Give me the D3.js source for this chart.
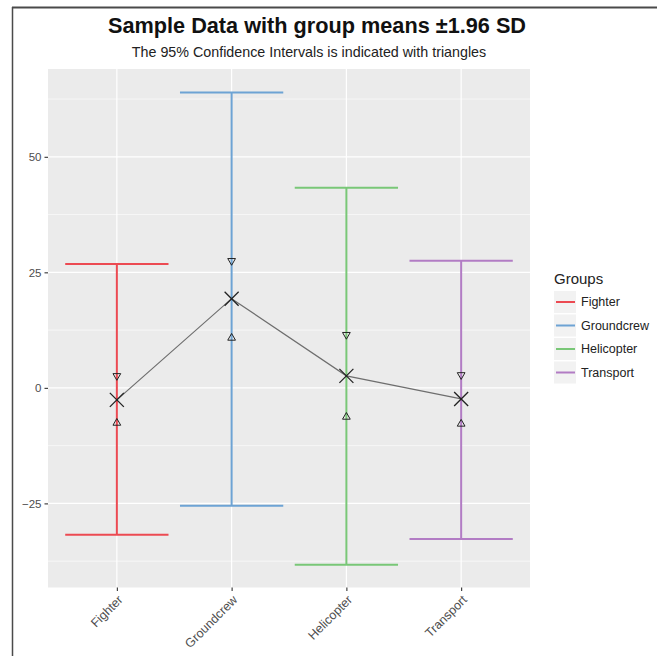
<!DOCTYPE html>
<html>
<head>
<meta charset="utf-8">
<script src="https://cdn.jsdelivr.net/npm/d3@7"></script>
<style>
  html, body { margin: 0; padding: 0; background: #fff; overflow: hidden; }
  svg { display: block; }
  text { font-family: "Liberation Sans", Arial, sans-serif; }
</style>
</head>
<body>
<svg id="chart" width="657" height="656"></svg>
<script>
// values
var groups = ["Fighter", "Groundcrew", "Helicopter", "Transport"];
var colors = ["#ec4a52", "#6da3d4", "#79c777", "#b27cc4"];
var means = [-2.6, 19.3, 2.6, -2.4];
var sdLow = [-31.8, -25.5, -38.3, -32.7];
var sdHigh = [26.8, 63.9, 43.3, 27.5];
var ciLow = [-7.6, 10.8, -6.3, -7.8];
var ciHigh = [2.6, 27.5, 11.5, 2.8];
var yTicks = [-25, 0, 25, 50];
var yMinor = [-37.5, -12.5, 12.5, 37.5, 62.5];

var rows = groups.map(function(g, i) {
  return {group: g, color: colors[i], mean: means[i], lo: sdLow[i], hi: sdHigh[i], cilo: ciLow[i], cihi: ciHigh[i]};
});

var svg = d3.select("#chart");
var panel = {left: 48, right: 530, top: 69, bottom: 587.5};

var x = d3.scalePoint().domain(groups).range([panel.left, panel.right]).padding(0.6);
var y = d3.scaleLinear().domain([-43.2, 69]).range([panel.bottom, panel.top]);
var capW = x.step() * 0.9;

// frame lines of the screenshot
svg.append("line").attr("x1", 12).attr("x2", 657).attr("y1", 7.5).attr("y2", 7.5)
  .attr("stroke", "#4a4a4a").attr("stroke-width", 2);
svg.append("line").attr("x1", 12.5).attr("x2", 12.5).attr("y1", 7).attr("y2", 656)
  .attr("stroke", "#4a4a4a").attr("stroke-width", 1.5);

// titles
svg.append("text").attr("x", 317).attr("y", 33).attr("text-anchor", "middle")
  .attr("font-size", 21.7).attr("font-weight", "bold").attr("fill", "#111")
  .text("Sample Data with group means \u00b11.96 SD");
svg.append("text").attr("x", 309).attr("y", 57).attr("text-anchor", "middle")
  .attr("font-size", 14.3).attr("fill", "#222")
  .text("The 95% Confidence Intervals is indicated with triangles");

// panel + grid
svg.append("rect").attr("x", panel.left).attr("y", panel.top)
  .attr("width", panel.right - panel.left).attr("height", panel.bottom - panel.top)
  .attr("fill", "#ebebeb");

var grid = svg.append("g");
grid.selectAll(".minor").data(yMinor).enter().append("line")
  .attr("x1", panel.left).attr("x2", panel.right)
  .attr("y1", function(d) { return y(d); }).attr("y2", function(d) { return y(d); })
  .attr("stroke", "#fff").attr("stroke-width", 0.6);
grid.selectAll(".major").data(yTicks).enter().append("line")
  .attr("x1", panel.left).attr("x2", panel.right)
  .attr("y1", function(d) { return y(d); }).attr("y2", function(d) { return y(d); })
  .attr("stroke", "#fff").attr("stroke-width", 1.2);
grid.selectAll(".vmajor").data(groups).enter().append("line")
  .attr("x1", function(d) { return x(d); }).attr("x2", function(d) { return x(d); })
  .attr("y1", panel.top).attr("y2", panel.bottom)
  .attr("stroke", "#fff").attr("stroke-width", 1.2);

// axes
var yAxis = svg.append("g").attr("transform", "translate(" + panel.left + ",0)")
  .call(d3.axisLeft(y).tickValues(yTicks).tickSize(3.5).tickPadding(3));
var xAxis = svg.append("g").attr("transform", "translate(0," + panel.bottom + ")")
  .call(d3.axisBottom(x).tickSize(3.5));
[yAxis, xAxis].forEach(function(a) {
  a.select(".domain").remove();
  a.selectAll(".tick line").attr("stroke", "#333").attr("stroke-width", 1.1);
  a.selectAll(".tick text").attr("fill", "#4d4d4d").attr("font-size", 11.5)
    .attr("font-family", "'Liberation Sans', Arial, sans-serif");
});
xAxis.selectAll(".tick text")
  .attr("font-size", 12.5)
  .attr("text-anchor", "end").attr("dy", "0.35em").attr("y", 0)
  .attr("transform", "translate(3,10) rotate(-45)");

// error bars
var bars = svg.append("g").selectAll("g").data(rows).enter().append("g")
  .attr("stroke", function(d) { return d.color; }).attr("stroke-width", 2);
bars.append("line")
  .attr("x1", function(d) { return x(d.group); }).attr("x2", function(d) { return x(d.group); })
  .attr("y1", function(d) { return y(d.lo); }).attr("y2", function(d) { return y(d.hi); });
bars.append("line")
  .attr("x1", function(d) { return x(d.group) - capW / 2; }).attr("x2", function(d) { return x(d.group) + capW / 2; })
  .attr("y1", function(d) { return y(d.hi); }).attr("y2", function(d) { return y(d.hi); });
bars.append("line")
  .attr("x1", function(d) { return x(d.group) - capW / 2; }).attr("x2", function(d) { return x(d.group) + capW / 2; })
  .attr("y1", function(d) { return y(d.lo); }).attr("y2", function(d) { return y(d.lo); });

// line through means
svg.append("path").datum(rows)
  .attr("d", d3.line().x(function(d) { return x(d.group); }).y(function(d) { return y(d.mean); }))
  .attr("fill", "none").attr("stroke", "#6e6e6e").attr("stroke-width", 1.2);

// triangles for the CI
var triUp = d3.symbol().type(d3.symbolTriangle).size(26);
svg.append("g").selectAll("path").data(rows).enter().append("path")
  .attr("d", triUp)
  .attr("transform", function(d) { return "translate(" + x(d.group) + "," + y(d.cilo) + ")"; })
  .attr("fill", "none").attr("stroke", "#222").attr("stroke-width", 1);
svg.append("g").selectAll("path").data(rows).enter().append("path")
  .attr("d", triUp)
  .attr("transform", function(d) { return "translate(" + x(d.group) + "," + y(d.cihi) + ") rotate(180)"; })
  .attr("fill", "none").attr("stroke", "#222").attr("stroke-width", 1);

// X marks at the means
var cross = svg.append("g").selectAll("g").data(rows).enter().append("g")
  .attr("transform", function(d) { return "translate(" + x(d.group) + "," + y(d.mean) + ")"; })
  .attr("stroke", "#222").attr("stroke-width", 1.3);
cross.append("line").attr("x1", -7).attr("y1", -7).attr("x2", 7).attr("y2", 7);
cross.append("line").attr("x1", -7).attr("y1", 7).attr("x2", 7).attr("y2", -7);

// legend
var legend = svg.append("g").attr("transform", "translate(554,0)");
legend.append("text").attr("x", 0).attr("y", 284).attr("font-size", 15).attr("fill", "#222").text("Groups");
var keys = legend.selectAll(".key").data(rows).enter().append("g")
  .attr("transform", function(d, i) { return "translate(0," + (302 + i * 23.5) + ")"; });
keys.append("rect").attr("x", 0).attr("y", -11).attr("width", 22).attr("height", 22).attr("fill", "#f2f2f2");
keys.append("line").attr("x1", 2).attr("x2", 21).attr("y1", 0).attr("y2", 0)
  .attr("stroke", function(d) { return d.color; }).attr("stroke-width", 2);
keys.append("text").attr("x", 27).attr("y", 4).attr("font-size", 12.5).attr("fill", "#222")
  .text(function(d) { return d.group; });
</script>
</body>
</html>
